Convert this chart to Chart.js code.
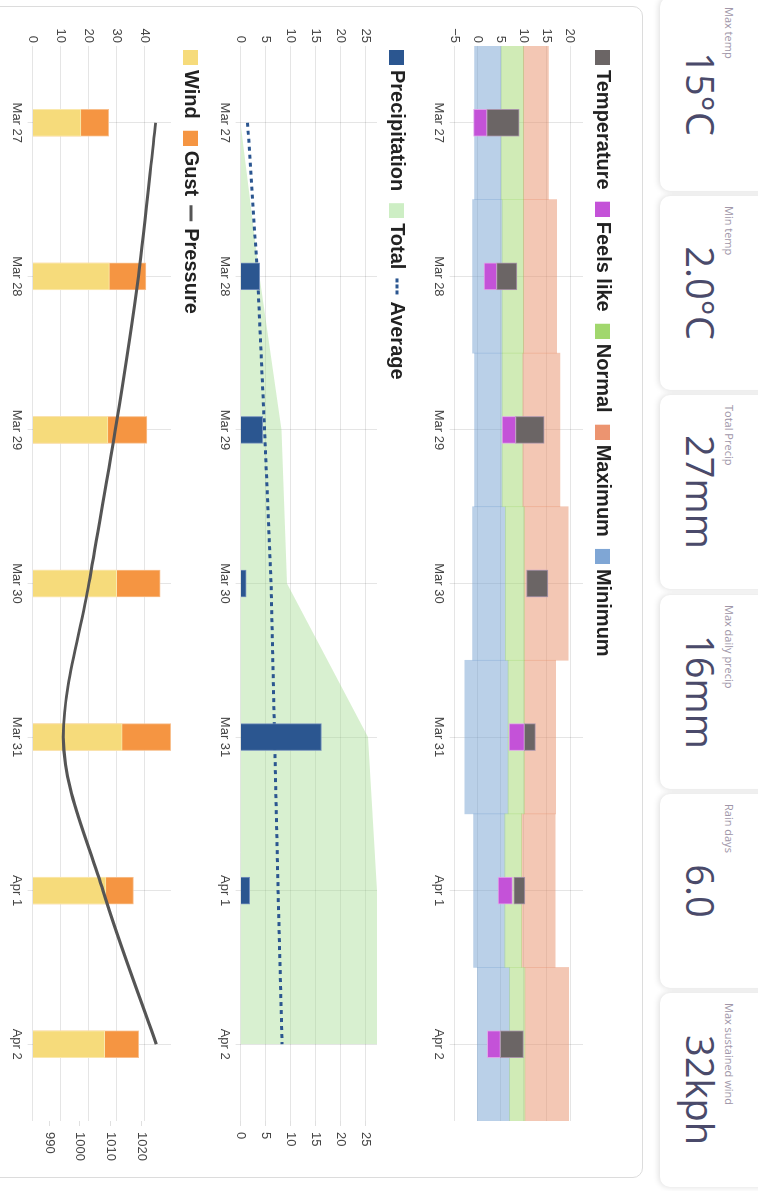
<!DOCTYPE html>
<html><head><meta charset="utf-8">
<script src="https://cdn.jsdelivr.net/npm/chart.js@4.4.1/dist/chart.umd.min.js"></script>
<style>
html,body{margin:0;padding:0;width:758px;height:1191px;overflow:hidden;background:#fff;}
#page{position:absolute;left:0;top:0;width:1191px;height:758px;transform-origin:0 0;transform:translate(758px,0) rotate(90deg);background:#fff;font-family:"Open Sans",sans-serif;}
.card{position:absolute;top:-20px;height:118px;width:194px;background:#fff;border-radius:10px;box-shadow:0 1px 6px rgba(0,0,0,0.14);}
.card .lab{position:absolute;left:10px;top:41px;font-size:11px;color:#a096a8;white-space:nowrap;}
.card .val{position:absolute;left:0;right:0;top:51px;text-align:center;font-size:38px;font-weight:400;color:#4a4a6a;white-space:nowrap;}
#panel{position:absolute;left:6px;top:115px;width:1170px;height:700px;border:1px solid #dcdcdc;border-radius:10px;background:#fff;}
canvas{position:absolute;left:0;}
</style>
</head>
<body>
<div id="page">
  <div class="card" style="left:-3px"><div class="lab">Max temp</div><div class="val">15°C</div></div>
  <div class="card" style="left:196px"><div class="lab">Min temp</div><div class="val">2.0°C</div></div>
  <div class="card" style="left:395px"><div class="lab">Total Precip</div><div class="val">27mm</div></div>
  <div class="card" style="left:595px"><div class="lab">Max daily precip</div><div class="val">16mm</div></div>
  <div class="card" style="left:794px"><div class="lab">Rain days</div><div class="val">6.0</div></div>
  <div class="card" style="left:993px"><div class="lab">Max sustained wind</div><div class="val">32kph</div></div>
  <div id="panel"></div>
  <canvas id="c1" width="1175" height="195" style="top:135px"></canvas>
  <canvas id="c2" width="1175" height="203" style="top:341px"></canvas>
  <canvas id="c3" width="1175" height="205" style="top:547px"></canvas>
</div>
<script>
// ---- data ----
const dates = ['Mar 27', 'Mar 28', 'Mar 29', 'Mar 30', 'Mar 31', 'Apr 1', 'Apr 2'];
const tempLow = [2.0, 4.1, 8.2, 10.6, 10.1, 7.8, 4.9];
const tempHigh = [9.0, 8.5, 14.4, 15.2, 12.5, 10.2, 9.9];
const feelsLow = [-0.9, 1.4, 5.3, 10.8, 6.8, 4.4, 2.1];
const feelsHigh = [2.0, 4.1, 8.2, 14.8, 10.1, 7.5, 4.9];
const recordLow = [-0.7, -1.1, -0.7, -1.1, -2.8, -0.9, -0.1];
const normalLow = [5.1, 5.3, 5.3, 6.0, 6.6, 5.9, 6.9];
const normalHigh = [9.9, 9.9, 9.7, 10.1, 10.1, 9.5, 10.2];
const recordHigh = [15.3, 17.1, 17.8, 19.6, 16.9, 16.8, 19.7];

const precip = [0, 3.8, 4.4, 1.1, 16.2, 1.8, 0];
const precipTotal = [0, 3.8, 8.2, 9.3, 25.5, 27.3, 27.3];
const precipAverage = [1.4, 3.4, 4.8, 6.1, 6.8, 7.5, 8.3];

const wind = [17.3, 27.5, 27.0, 30.1, 32.1, 26.3, 25.8];
const gust = [27.3, 40.6, 41.0, 45.7, 49.5, 36.1, 38.0];
const pressure = [1024.6, 1019.0, 1011.5, 1002.9, 994.6, 1007.5, 1024.8];

const tempTicks = {min: -5, max: 22.8, step: 5};
const precipTicks = {min: 0, max: 27.3, step: 5};
const windTicks = {min: 0, max: 49.6, step: 10};
const pressureTicks = {min: 984.6, max: 1029.6, step: 10};

// ---- helpers ----
Chart.defaults.font.family = '"Liberation Sans", Arial, Helvetica, sans-serif';
Chart.defaults.font.size = 13;
Chart.defaults.color = '#444';
Chart.defaults.animation = false;

function pairs(a, b) { return a.map((v, i) => [v, b[i]]); }
function squareIcon(color) {
  const c = document.createElement('canvas'); c.width = 22; c.height = 15;
  const g = c.getContext('2d'); g.fillStyle = color; g.fillRect(7, 0, 15, 15); return c;
}
function lineIcon(color, dash) {
  const c = document.createElement('canvas'); c.width = 22; c.height = 5;
  const g = c.getContext('2d'); g.strokeStyle = color; g.lineWidth = 3;
  if (dash) g.setLineDash(dash);
  g.beginPath(); g.moveTo(4, 2.5); g.lineTo(20, 2.5); g.stroke(); return c;
}
function legendOpts(items) {
  return {
    position: 'top', align: 'start', fullSize: false,
    labels: {
      usePointStyle: true, boxWidth: 12, boxHeight: 15, padding: 10, color: '#222',
      font: {size: 20, weight: 'bold'},
      generateLabels: () => items.map(it => ({
        text: it.text, pointStyle: it.icon, fillStyle: 'rgba(0,0,0,0)', strokeStyle: 'rgba(0,0,0,0)',
        lineWidth: 0, hidden: false, datasetIndex: it.ds, fontColor: '#222'
      }))
    }
  };
}
const legendShift = {id: 'legendShift', afterLayout(chart) { if (chart.legend) { chart.legend.left -= 8; chart.legend.right -= 8; } }};
const minus = v => String(v).replace('-', '\u2212');
function xScale() {
  return {
    offset: true,
    grid: {offset: false, color: 'rgba(0,0,0,0.1)', tickLength: 5},
    border: {display: false},
    ticks: {padding: 3, maxRotation: 0, autoSkip: false, color: '#444'}
  };
}
function leftScale(t) {
  return {
    position: 'left', min: t.min, max: t.max,
    ticks: {stepSize: t.step, includeBounds: false, padding: 3, color: '#444', callback: minus},
    grid: {drawTicks: false, color: 'rgba(0,0,0,0.1)'},
    border: {display: false},
    afterFit: s => { s.width = 46; }
  };
}
function rightScale(t) {
  return {
    position: 'right', min: t.min, max: t.max,
    ticks: {stepSize: t.step, includeBounds: false, padding: 6, color: '#444', callback: minus},
    grid: {drawOnChartArea: false, tickLength: 5, color: 'rgba(0,0,0,0.12)'},
    border: {display: false},
    afterFit: s => { s.width = 54; }
  };
}
const baseOpts = {responsive: false, maintainAspectRatio: false, animation: false};

// ---- Chart 1: temperature ----
new Chart(document.getElementById('c1'), {
  type: 'bar',
  data: {
    labels: dates,
    datasets: [
      {label: 'Temperature', data: pairs(tempLow, tempHigh), backgroundColor: '#6b6565', borderColor: '#ab96ab', borderWidth: 1, borderSkipped: false, grouped: false, barThickness: 27},
      {label: 'Feels like', data: pairs(feelsLow, feelsHigh), backgroundColor: '#c452d8', borderColor: '#e0a6ea', borderWidth: 1, borderSkipped: false, grouped: false, barThickness: 27},
      {label: 'Normal', data: pairs(normalLow, normalHigh), backgroundColor: 'rgba(161,215,109,0.5)', borderWidth: 0, grouped: false, barPercentage: 1, categoryPercentage: 1},
      {label: 'Maximum', data: pairs(normalHigh, recordHigh), backgroundColor: 'rgba(232,144,106,0.5)', borderWidth: 0, grouped: false, barPercentage: 1, categoryPercentage: 1},
      {label: 'Minimum', data: pairs(recordLow, normalLow), backgroundColor: 'rgba(117,161,209,0.5)', borderWidth: 0, grouped: false, barPercentage: 1, categoryPercentage: 1}
    ]
  },
  options: Object.assign({}, baseOpts, {
    layout: {padding: {right: 54}},
    plugins: {
      tooltip: {enabled: false},
      legend: legendOpts([
        {text: 'Temperature', icon: squareIcon('#6b6565'), ds: 0},
        {text: 'Feels like', icon: squareIcon('#c452d8'), ds: 1},
        {text: 'Normal', icon: squareIcon('#a1d76d'), ds: 2},
        {text: 'Maximum', icon: squareIcon('#ec9470'), ds: 3},
        {text: 'Minimum', icon: squareIcon('#7fa6d5'), ds: 4}
      ])
    },
    scales: {x: xScale(), y: leftScale(tempTicks)}
  }),
  plugins: [legendShift]
});

// ---- Chart 2: precipitation ----
new Chart(document.getElementById('c2'), {
  type: 'bar',
  data: {
    labels: dates,
    datasets: [
      {type: 'bar', label: 'Precipitation', data: precip, backgroundColor: '#2b5690', borderColor: '#7792bd', borderWidth: 1, barThickness: 27, yAxisID: 'y', order: 0},
      {type: 'line', label: 'Total', data: precipTotal, backgroundColor: 'rgba(158,218,138,0.4)', borderColor: 'rgba(0,0,0,0)', borderWidth: 0, fill: 'origin', pointRadius: 0, tension: 0, yAxisID: 'y1', order: 2},
      {type: 'line', label: 'Average', data: precipAverage, borderColor: '#2b5690', borderWidth: 3, borderDash: [4, 4], pointRadius: 0, fill: false, tension: 0, yAxisID: 'y1', order: 1}
    ]
  },
  options: Object.assign({}, baseOpts, {
    plugins: {
      tooltip: {enabled: false},
      legend: legendOpts([
        {text: 'Precipitation', icon: squareIcon('#2b5690'), ds: 0},
        {text: 'Total', icon: squareIcon('#cdeec4'), ds: 1},
        {text: 'Average', icon: lineIcon('#2b5690', [4, 2]), ds: 2}
      ])
    },
    scales: {x: xScale(), y: leftScale(precipTicks), y1: rightScale(precipTicks)}
  }),
  plugins: [legendShift]
});

// ---- Chart 3: wind ----
new Chart(document.getElementById('c3'), {
  type: 'bar',
  data: {
    labels: dates,
    datasets: [
      {type: 'bar', label: 'Wind', data: wind, backgroundColor: '#f6db7b', borderColor: '#fae9b0', borderWidth: 1, grouped: false, barThickness: 27, yAxisID: 'y', order: 1},
      {type: 'bar', label: 'Gust', data: gust, backgroundColor: '#f59542', borderColor: '#f8c08f', borderWidth: 1, grouped: false, barThickness: 27, yAxisID: 'y', order: 2},
      {type: 'line', label: 'Pressure', data: pressure, borderColor: '#555555', borderWidth: 3, pointRadius: 0, fill: false, cubicInterpolationMode: 'monotone', yAxisID: 'y1', order: 0}
    ]
  },
  options: Object.assign({}, baseOpts, {
    plugins: {
      tooltip: {enabled: false},
      legend: legendOpts([
        {text: 'Wind', icon: squareIcon('#f6db7b'), ds: 0},
        {text: 'Gust', icon: squareIcon('#f59542'), ds: 1},
        {text: 'Pressure', icon: lineIcon('#555555'), ds: 2}
      ])
    },
    scales: {x: xScale(), y: leftScale(windTicks), y1: rightScale(pressureTicks)}
  }),
  plugins: [legendShift]
});
</script>
</body></html>
